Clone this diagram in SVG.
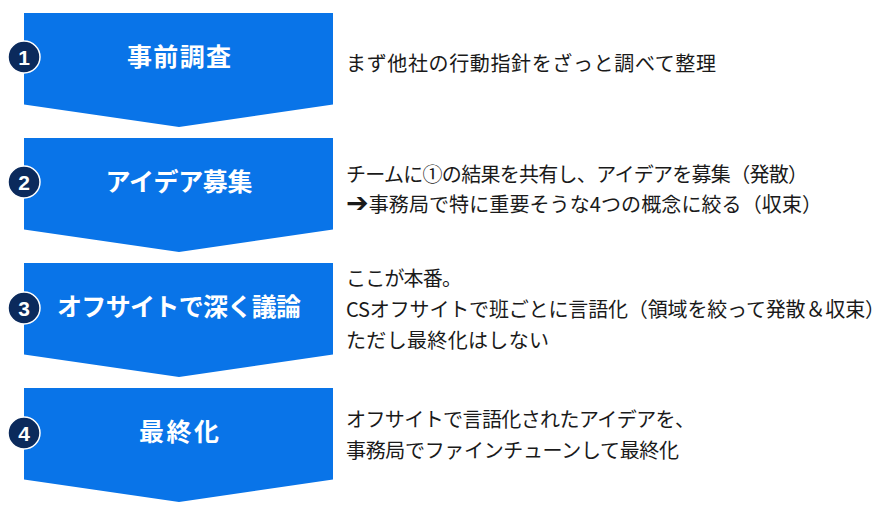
<svg xmlns="http://www.w3.org/2000/svg" width="886" height="511" viewBox="0 0 886 511">
<defs>
<style>
.chev{fill:#0974E8;}
.badge{fill:#0B2A5C;stroke:#FFFFFF;stroke-width:1.5;}
.num{font-family:"Liberation Sans","DejaVu Sans",sans-serif;font-weight:bold;font-size:21px;fill:#FFFFFF;text-anchor:middle;}
.title{font-family:"Noto Sans CJK JP","Noto Sans",sans-serif;font-weight:bold;font-size:25px;fill:#FFFFFF;text-anchor:middle;}
.desc{font-family:"Noto Sans CJK JP","Noto Sans","DejaVu Sans",sans-serif;font-size:20px;fill:#1A1A1A;}
.arrow{font-family:"DejaVu Sans",sans-serif;font-size:27px;}
</style>
</defs>
<rect width="886" height="511" fill="#FFFFFF"/>
<g id="connectors"></g>
<g id="step1">
<path class="chev" d="M24,13 H333 V104.5 L179,127 L24,104.5 Z"/>
<circle class="badge" cx="24" cy="57" r="16"/>
<text class="num" x="24" y="64.5">1</text>
<text class="title" x="179" y="66" textLength="104" lengthAdjust="spacing">事前調査</text>
<text class="desc" x="346" y="71" textLength="370" lengthAdjust="spacing">まず他社の行動指針をざっと調べて整理</text>
</g>
<g id="step2">
<path class="chev" d="M24,138 H333 V229.5 L179,252 L24,229.5 Z"/>
<circle class="badge" cx="24" cy="182" r="16"/>
<text class="num" x="24" y="189.5">2</text>
<text class="title" x="179" y="191" textLength="147" lengthAdjust="spacing">アイデア募集</text>
<text class="desc" x="346" y="182" textLength="462" lengthAdjust="spacing">チームに①の結果を共有し、アイデアを募集（発散）</text>
<text class="desc" x="346" y="212" textLength="476" lengthAdjust="spacing"><tspan class="arrow">➔</tspan>事務局で特に重要そうな4つの概念に絞る（収束）</text>
</g>
<g id="step3">
<path class="chev" d="M24,263 H333 V354.5 L179,377 L24,354.5 Z"/>
<circle class="badge" cx="24" cy="308" r="16"/>
<text class="num" x="24" y="315.5">3</text>
<text class="title" x="179" y="316" textLength="244" lengthAdjust="spacing">オフサイトで深く議論</text>
<text class="desc" x="346" y="286" textLength="116" lengthAdjust="spacing">ここが本番。</text>
<text class="desc" x="346" y="317" textLength="539" lengthAdjust="spacing">CSオフサイトで班ごとに言語化（領域を絞って発散＆収束）</text>
<text class="desc" x="346" y="348" textLength="203" lengthAdjust="spacing">ただし最終化はしない</text>
</g>
<g id="step4">
<path class="chev" d="M24,388 H333 V479.5 L179,502 L24,479.5 Z"/>
<circle class="badge" cx="24" cy="433" r="16"/>
<text class="num" x="24" y="440.5">4</text>
<text class="title" x="179" y="441" textLength="80" lengthAdjust="spacing">最終化</text>
<text class="desc" x="346" y="427" textLength="349" lengthAdjust="spacing">オフサイトで言語化されたアイデアを、</text>
<text class="desc" x="346" y="458" textLength="333" lengthAdjust="spacing">事務局でファインチューンして最終化</text>
</g>
</svg>
